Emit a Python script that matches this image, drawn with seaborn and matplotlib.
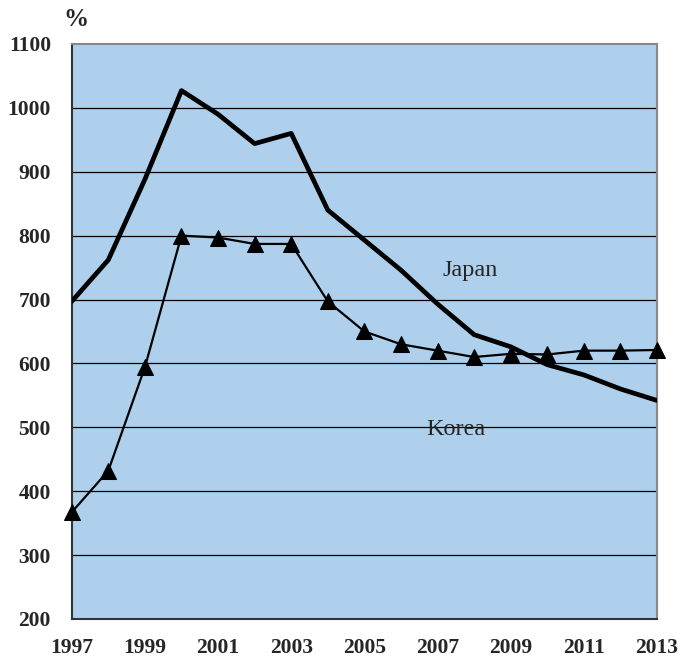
import numpy as np
import matplotlib
matplotlib.use('Agg')
import matplotlib.pyplot as plt
import pandas as pd
import seaborn as sns

# data
years = list(range(1997, 2014))
japan = [697, 762, 888, 1027, 990, 944, 960, 840, 793, 746, 693, 645, 626, 598, 582, 560, 542]
korea = [367, 432, 594, 800, 797, 787, 787, 697, 650, 630, 620, 610, 615, 614, 620, 620, 621]
y_ticks = [200, 300, 400, 500, 600, 700, 800, 900, 1000, 1100]
x_ticks = [1997, 1999, 2001, 2003, 2005, 2007, 2009, 2011, 2013]

df = pd.DataFrame({'Year': years * 2,
                   'Value': japan + korea,
                   'Country': ['Japan'] * len(years) + ['Korea'] * len(years)})

sns.set_style('white')
plt.rcParams['font.family'] = ['Liberation Serif', 'DejaVu Serif']

fig = plt.figure(figsize=(6.83, 6.66), dpi=100)
ax = fig.add_axes([0.105, 0.0706, 0.857, 0.8634])
ax.set_facecolor('#aed0ec')

sns.lineplot(data=df[df['Country'] == 'Japan'], x='Year', y='Value', color='black',
             linewidth=3.4, ax=ax, zorder=3)
sns.lineplot(data=df[df['Country'] == 'Korea'], x='Year', y='Value', color='black',
             linewidth=1.6, marker='^', markersize=12, markeredgecolor='black', ax=ax,
             zorder=4, clip_on=False)

for y in y_ticks[1:-1]:
    ax.axhline(y, color='black', linewidth=0.9, zorder=1)

ax.set_xlim(1997, 2013)
ax.set_ylim(200, 1100)
ax.set_xticks(x_ticks)
ax.set_yticks(y_ticks)
ax.tick_params(axis='both', direction='in', length=5, width=1, color='#444444',
               labelsize=15.5)
ax.tick_params(axis='x', pad=14)
ax.tick_params(axis='y', pad=15)
for lab in ax.get_xticklabels() + ax.get_yticklabels():
    lab.set_fontweight('bold')
ax.set_xlabel('')
ax.set_ylabel('')

for side in ['left', 'bottom']:
    ax.spines[side].set_color('#333333')
    ax.spines[side].set_linewidth(1.5)
for side in ['top', 'right']:
    ax.spines[side].set_color('#888888')
    ax.spines[side].set_linewidth(1.5)

ax.text(2007.9, 746, 'Japan', fontsize=17.5, ha='center', va='center')
ax.text(2007.5, 496, 'Korea', fontsize=17.5, ha='center', va='center')
fig.text(0.111, 0.97, '%', fontsize=18, fontweight='bold', ha='center', va='center')

fig.savefig('out.png', dpi=100)
